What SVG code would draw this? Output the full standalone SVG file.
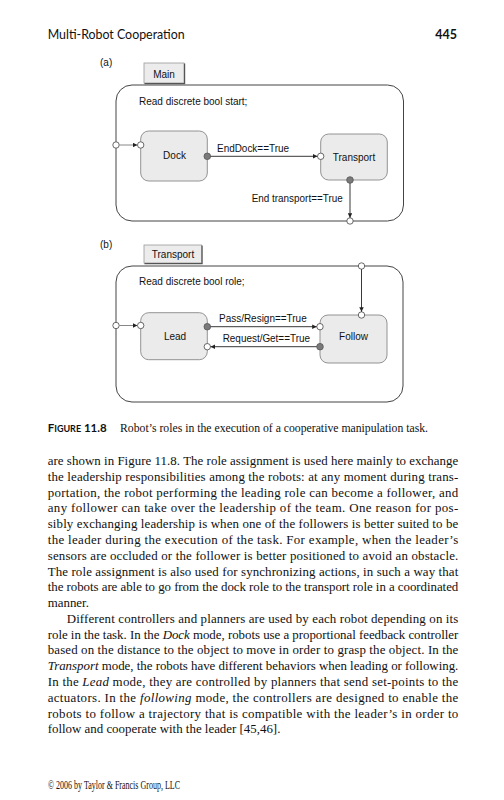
<svg xmlns="http://www.w3.org/2000/svg" width="504" height="800" viewBox="0 0 504 800">
<style>
.bg{fill:#fff}
.frame{fill:none;stroke:#444;stroke-width:1}
.tab{fill:#ececec;stroke:#999;stroke-width:0.8}
.tabsh{fill:none;stroke:#555;stroke-width:1.2}
.state{fill:#ebebeb;stroke:#888;stroke-width:0.9}
.open{fill:#fff;stroke:#444;stroke-width:0.8}
.full{fill:#7a7a7a;stroke:#555;stroke-width:0.8}
.d{font-family:"Liberation Sans",Arial,sans-serif;font-size:10px;fill:#111}
.c{text-anchor:middle}
.conn{stroke:#222;stroke-width:0.9;fill:none}
.conng{stroke:#888;stroke-width:1;fill:none}
.body{font-family:"Liberation Serif","Times New Roman",serif;font-size:12.9px;fill:#111}
.hdr{font-family:Lato,"Open Sans",sans-serif;fill:#111}
</style>
<defs>
<marker id="ah" viewBox="0 0 6 6" refX="6" refY="3" markerWidth="5" markerHeight="4.5" markerUnits="userSpaceOnUse" orient="auto">
<path d="M0,0 L6,3 L0,6 z" fill="#222"/>
</marker>
</defs>
<rect class="bg" x="0" y="0" width="504" height="800"/>

<text class="hdr" x="47.7" y="39" font-size="12.5" textLength="137" lengthAdjust="spacingAndGlyphs">Multi-Robot Cooperation</text>
<text class="hdr" x="457" y="39" font-size="12.5" font-weight="bold" text-anchor="end">445</text>

<!-- (a) -->
<g id="figure-a">
<text class="d" x="100" y="66">(a)</text>
<rect class="frame" x="116" y="85" width="287.5" height="136" rx="16"/>
<g id="main-tab">
<rect class="tab" x="144" y="63" width="40" height="20"/>
<path class="tabsh" d="M184.6,63.5 V83.6 H144.5"/>
<text class="d c" x="164" y="77.5">Main</text>
</g>
<text class="d" x="139" y="105">Read discrete bool start;</text>
</g>

<g id="dock">
<rect class="state" x="140.7" y="131" width="66.6" height="50" rx="8"/>
<text class="d c" x="174.5" y="159">Dock</text>
<circle class="open" cx="140.7" cy="145" r="3.2"/>
<circle class="full" cx="207.3" cy="156.3" r="3.3"/>
</g>
<g id="transport">
<rect class="state" x="320.7" y="134" width="66.6" height="46" rx="8"/>
<text class="d c" x="354" y="160.5">Transport</text>
<circle class="open" cx="320.7" cy="156.3" r="3.2"/>
<circle class="full" cx="350" cy="180" r="3.3"/>
</g>
<g id="ports-a">
<circle class="open" cx="116" cy="145" r="3.2"/>
<circle class="open" cx="350" cy="221" r="3.2"/>
</g>

<!-- (b) -->
<g id="figure-b">
<text class="d" x="100" y="248">(b)</text>
<rect class="frame" x="116" y="266" width="287" height="136" rx="16"/>
<g id="transport-tab">
<rect class="tab" x="144" y="245" width="57.5" height="18"/>
<path class="tabsh" d="M202.1,245.5 V263.6 H144.5"/>
<text class="d c" x="173" y="257.5">Transport</text>
</g>
<text class="d" x="139" y="285">Read discrete bool role;</text>
</g>

<g id="lead">
<rect class="state" x="140.7" y="312.7" width="66.6" height="47" rx="8"/>
<text class="d c" x="175" y="340">Lead</text>
<circle class="open" cx="140.7" cy="325.5" r="3.2"/>
<circle class="full" cx="207.3" cy="326.7" r="3.3"/>
<circle class="open" cx="207.3" cy="346.7" r="3.2"/>
</g>
<g id="follow">
<rect class="state" x="320" y="315" width="67" height="48" rx="8"/>
<text class="d c" x="353.5" y="339.5">Follow</text>
<circle class="open" cx="320" cy="326.7" r="3.2"/>
<circle class="full" cx="320" cy="346.7" r="3.3"/>
<circle class="open" cx="361.5" cy="315" r="3.2"/>
</g>
<g id="ports-b">
<circle class="open" cx="116" cy="325.5" r="3.2"/>
<circle class="open" cx="361.5" cy="266" r="3.2"/>
</g>

<g id="connectors">
<line class="conng" x1="119.2" y1="145" x2="137.4" y2="145" marker-end="url(#ah)"/>
<line class="conn" x1="210.6" y1="156.3" x2="317.4" y2="156.3" marker-end="url(#ah)"/>
<text class="d" x="217" y="151.5" textLength="72" lengthAdjust="spacingAndGlyphs">EndDock==True</text>
<line class="conn" x1="350" y1="183.3" x2="350" y2="217.7" marker-end="url(#ah)"/>
<text class="d" x="251.7" y="201.5" textLength="91" lengthAdjust="spacingAndGlyphs">End transport==True</text>
<line class="conng" x1="119.2" y1="325.5" x2="137.4" y2="325.5" marker-end="url(#ah)"/>
<line class="conn" x1="361.5" y1="269.2" x2="361.5" y2="311.7" marker-end="url(#ah)"/>
<line class="conn" x1="210.6" y1="326.7" x2="316.7" y2="326.7" marker-end="url(#ah)"/>
<text class="d" x="219" y="321.5" textLength="87.7" lengthAdjust="spacingAndGlyphs">Pass/Resign==True</text>
<line class="conn" x1="316.6" y1="346.7" x2="210.6" y2="346.7" marker-end="url(#ah)"/>
<text class="d" x="222.7" y="341.5" textLength="87.3" lengthAdjust="spacingAndGlyphs">Request/Get==True</text>
</g>

<!-- caption -->
<text class="hdr" x="47.7" y="431.7" font-weight="bold" font-size="11.5" textLength="59" lengthAdjust="spacingAndGlyphs">F<tspan font-size="9">IGURE</tspan> 11.8</text>
<text class="body" x="120" y="431.7" font-size="11.2" textLength="308" lengthAdjust="spacingAndGlyphs">Robot’s roles in the execution of a cooperative manipulation task.</text>

<!-- body text -->
<g class="body">
<text x="47.7" y="465" textLength="410.6" lengthAdjust="spacing">are shown in Figure 11.8. The role assignment is used here mainly to exchange</text>
<text x="47.7" y="480.8" textLength="410.6" lengthAdjust="spacing">the leadership responsibilities among the robots: at any moment during trans-</text>
<text x="47.7" y="496.6" textLength="410.6" lengthAdjust="spacing">portation, the robot performing the leading role can become a follower, and</text>
<text x="47.7" y="512.3" textLength="410.6" lengthAdjust="spacing">any follower can take over the leadership of the team. One reason for pos-</text>
<text x="47.7" y="528.1" textLength="410.6" lengthAdjust="spacing">sibly exchanging leadership is when one of the followers is better suited to be</text>
<text x="47.7" y="543.9" textLength="410.6" lengthAdjust="spacing">the leader during the execution of the task. For example, when the leader’s</text>
<text x="47.7" y="559.7" textLength="410.6" lengthAdjust="spacing">sensors are occluded or the follower is better positioned to avoid an obstacle.</text>
<text x="47.7" y="575.5" textLength="410.6" lengthAdjust="spacing">The role assignment is also used for synchronizing actions, in such a way that</text>
<text x="47.7" y="591.2" textLength="410.6" lengthAdjust="spacing">the robots are able to go from the dock role to the transport role in a coordinated</text>
<text x="47.7" y="607">manner.</text>
<text x="66.7" y="622.8" textLength="391.6" lengthAdjust="spacing">Different controllers and planners are used by each robot depending on its</text>
<text x="47.7" y="638.6" textLength="410.6" lengthAdjust="spacing">role in the task. In the <tspan font-style="italic">Dock</tspan> mode, robots use a proportional feedback controller</text>
<text x="47.7" y="654.4" textLength="410.6" lengthAdjust="spacing">based on the distance to the object to move in order to grasp the object. In the</text>
<text x="47.7" y="670.1" textLength="410.6" lengthAdjust="spacing"><tspan font-style="italic">Transport</tspan> mode, the robots have different behaviors when leading or following.</text>
<text x="47.7" y="685.9" textLength="410.6" lengthAdjust="spacing">In the <tspan font-style="italic">Lead</tspan> mode, they are controlled by planners that send set-points to the</text>
<text x="47.7" y="701.7" textLength="410.6" lengthAdjust="spacing">actuators. In the <tspan font-style="italic">following</tspan> mode, the controllers are designed to enable the</text>
<text x="47.7" y="717.5" textLength="410.6" lengthAdjust="spacing">robots to follow a trajectory that is compatible with the leader’s in order to</text>
<text x="47.7" y="733.3">follow and cooperate with the leader [45,46].</text>
</g>

<text class="body" x="48" y="789" font-size="8" textLength="132" lengthAdjust="spacingAndGlyphs">© 2006 by Taylor &amp; Francis Group, LLC</text>
</svg>
